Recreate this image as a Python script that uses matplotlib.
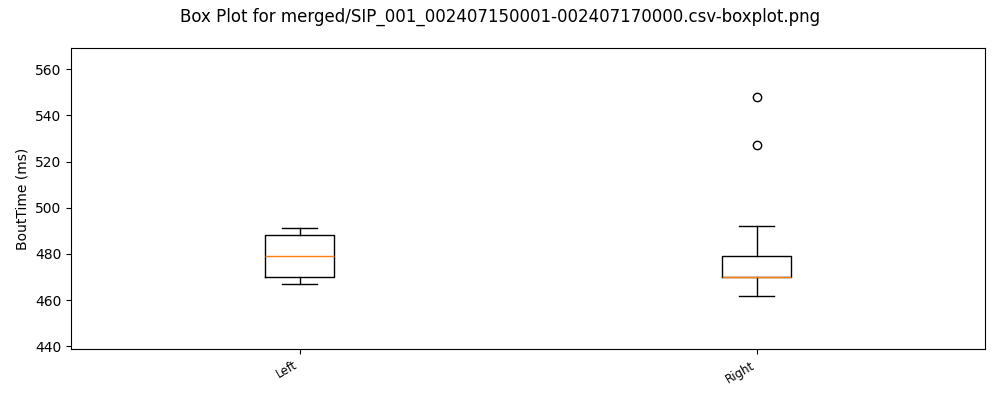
import matplotlib
matplotlib.use("Agg")
import matplotlib.pyplot as plt

# box statistics (ms)
labels = ["Left", "Right"]
whislo = [467, 462]
q1 = [470, 470]
med = [479, 470]
q3 = [488, 479]
whishi = [491.3, 492]
fliers = [[], [527, 548]]

stats = []
for i in range(len(labels)):
    stats.append({
        "label": labels[i],
        "whislo": whislo[i],
        "q1": q1[i],
        "med": med[i],
        "q3": q3[i],
        "whishi": whishi[i],
        "fliers": fliers[i],
    })

fig, ax = plt.subplots(figsize=(10, 4), dpi=100)
fig.subplots_adjust(left=0.071, right=0.985, top=0.88, bottom=0.1275)

ax.bxp(stats, widths=0.15)
ax.set_ylim(438.9, 569.1)
ax.set_xlim(0.5, 2.5)
ax.set_ylabel("BoutTime (ms)")
plt.setp(ax.get_xticklabels(), rotation=30, ha="right", fontsize=8.5)

fig.suptitle("Box Plot for merged/SIP_001_002407150001-002407170000.csv-boxplot.png")

fig.savefig("out.png")
